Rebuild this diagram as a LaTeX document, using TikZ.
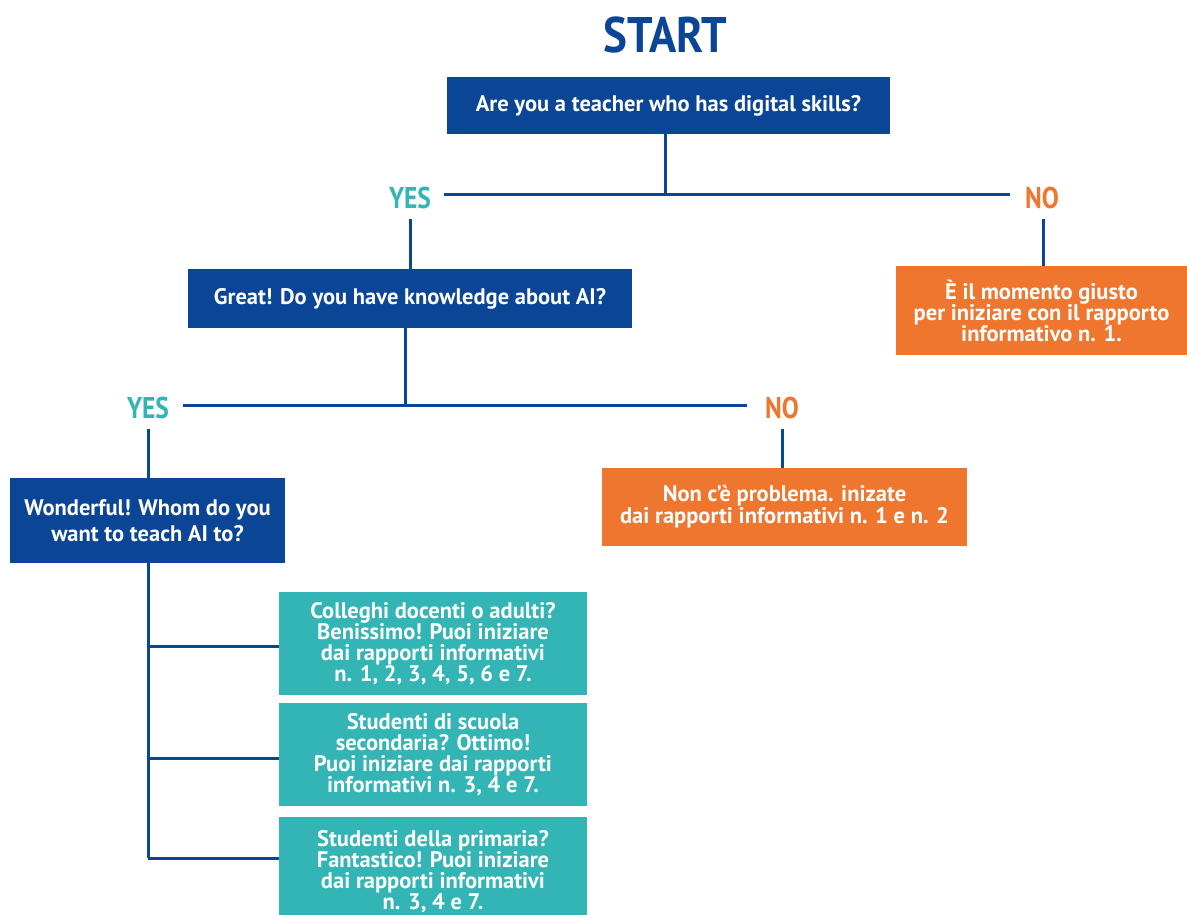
\documentclass[tikz,border=0pt]{standalone}
\usepackage{fontspec}
\setmainfont{PT Sans}
\newfontfamily\titlefont{PT Sans}[FakeStretch=0.90]
\newfontfamily\labfont{PT Sans}[FakeStretch=0.85]
\definecolor{ecblue}{HTML}{0B4596}
\definecolor{ecteal}{HTML}{33B5B5}
\definecolor{ecorange}{HTML}{EE762F}
\tikzset{
  link/.style={draw=ecblue, line width=3pt},
  qbox/.style={rectangle, fill=ecblue, text=white, align=center, inner sep=0pt, font=\bfseries\fontsize{22.5}{26}\selectfont},
  obox/.style={rectangle, fill=ecorange, text=white, align=center, inner sep=0pt, font=\bfseries\fontsize{22.5}{21}\selectfont},
  tbox/.style={rectangle, fill=ecteal, text=white, align=center, inner sep=0pt, minimum width=308pt, font=\bfseries\fontsize{22.5}{21}\selectfont},
  yeslab/.style={text=ecteal, font=\labfont\bfseries\fontsize{30}{30}\selectfont, inner sep=0pt},
  nolab/.style={text=ecorange, font=\labfont\bfseries\fontsize{30}{30}\selectfont, inner sep=0pt}
}
\begin{document}
\begin{tikzpicture}[x=1pt,y=-1pt]
\useasboundingbox (0,0) rectangle (1187,915);
\node[text=ecblue, font=\titlefont\bfseries\fontsize{50}{50}\selectfont, inner sep=0pt] (start) at (665.5,35) {START};
\node[qbox, minimum width=443pt, minimum height=57pt] (b1) at (668.5,105.5) {Are you a teacher who has digital skills?};
\node[yeslab] (yes1) at (410,198) {YES};
\node[nolab] (no1) at (1042,198) {NO};
\node[qbox, minimum width=444pt, minimum height=59pt] (b2) at (410,298.5) {Great! Do you have knowledge about AI?};
\node[obox, minimum width=291pt, minimum height=89pt] (o1) at (1041.5,310.5) {È il momento giusto\\ per iniziare con il rapporto\\ informativo n. 1.};
\node[yeslab] (yes2) at (148,408) {YES};
\node[nolab] (no2) at (782,408) {NO};
\node[qbox, minimum width=275pt, minimum height=85pt] (b3) at (147.5,520.5) {Wonderful! Whom do you\\ want to teach AI to?};
\node[obox, minimum width=365pt, minimum height=78pt, font=\bfseries\fontsize{22.5}{22}\selectfont] (o2) at (784.5,507) {Non c’è problema. inizate\\ dai rapporti informativi n. 1 e n. 2};
\node[tbox, minimum height=103pt] (t1) at (433,643.5) {Colleghi docenti o adulti?\\ Benissimo! Puoi iniziare\\ dai rapporti informativi\\ n. 1, 2, 3, 4, 5, 6 e 7.};
\node[tbox, minimum height=103pt] (t2) at (433,754.5) {Studenti di scuola\\ secondaria? Ottimo!\\ Puoi iniziare dai rapporti\\ informativi n. 3, 4 e 7.};
\node[tbox, minimum height=110pt] (t3) at (433,872) {Studenti della primaria?\\ Fantastico! Puoi iniziare\\ dai rapporti informativi\\ n. 3, 4 e 7.};
% coordinates
\coordinate (j1) at (665,195);
\coordinate (h1l) at (444,195);
\coordinate (h1r) at (1010,195);
\coordinate (y1d) at (410,219);
\coordinate (n1d) at (1043,219);
\coordinate (j2) at (405,405);
\coordinate (h2l) at (183,405);
\coordinate (h2r) at (747,405);
\coordinate (y2d) at (148,429);
\coordinate (n2d) at (782,429);
\coordinate (k1) at (148,646);
\coordinate (k2) at (148,758);
\coordinate (k3) at (148,858);
% connectors
\draw[link] (b1.south -| j1) -- (j1);
\draw[link] (h1l) -- (h1r);
\draw[link] (y1d) -- (b2.north -| y1d);
\draw[link] (n1d) -- (o1.north -| n1d);
\draw[link] (b2.south -| j2) -- (j2);
\draw[link] (h2l) -- (h2r);
\draw[link] (y2d) -- (b3.north -| y2d);
\draw[link] (n2d) -- (o2.north -| n2d);
\draw[link] (b3.south -| k1) -- (k3);
\draw[link] (k1) -- (t1.west |- k1);
\draw[link] (k2) -- (t2.west |- k2);
\draw[link] (k3) -- (t3.west |- k3);
\end{tikzpicture}
\end{document}
